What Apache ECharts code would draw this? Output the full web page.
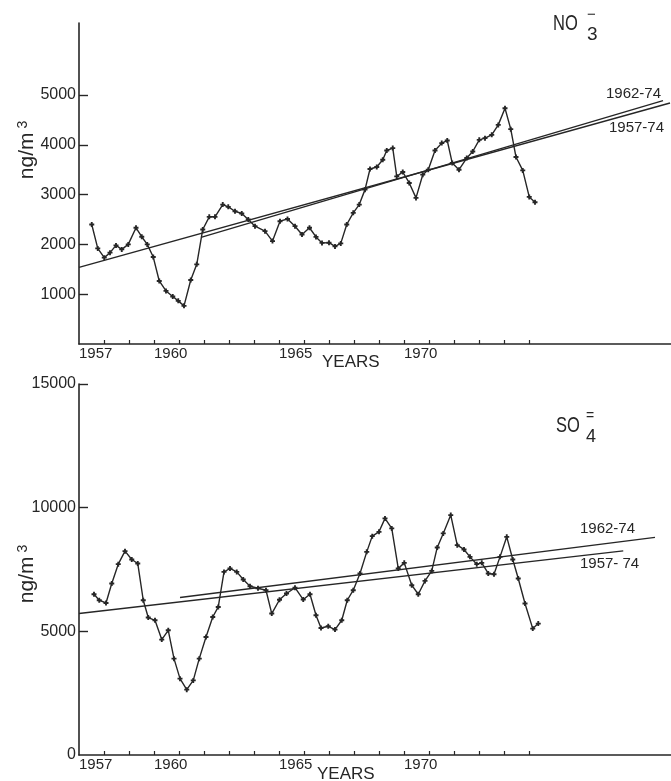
<!DOCTYPE html>
<html lang="en">
<head>
    <meta charset="utf-8" />
    <style>
        html, body { margin:0; padding:0; background:#fff; }
    </style>
</head>
<body>

<div id="view1" style="width:671px; height:781px;"></div>

<script src="https://cdn.jsdelivr.net/npm/echarts/dist/echarts.min.js"></script>

<script language="javascript">

    // NO3- (top panel), quarterly points
    var no3Years = [1957.51,1957.75,1958.01,1958.24,1958.48,1958.71,1958.97,1959.28,1959.51,1959.73,
        1959.97,1960.21,1960.48,1960.75,1960.97,1961.2,1961.47,1961.71,1961.95,1962.21,
        1962.44,1962.75,1962.97,1963.24,1963.51,1963.77,1964.04,1964.44,1964.74,1965.04,
        1965.34,1965.64,1965.92,1966.22,1966.48,1966.72,1967.0,1967.24,1967.47,1967.71,
        1967.97,1968.21,1968.44,1968.64,1968.91,1969.15,1969.31,1969.55,1969.71,1969.95,
        1970.21,1970.48,1970.75,1970.97,1971.24,1971.51,1971.73,1971.93,1972.2,1972.51,
        1972.75,1973.01,1973.24,1973.51,1973.77,1974.04,1974.27,1974.48,1974.75,1975.01,1975.24];
    var no3Values = [2400,1920,1734,1834,1980,1900,2000,2334,2154,2000,
        1746,1266,1066,954,866,766,1286,1600,2300,2554,
        2554,2800,2754,2666,2620,2500,2366,2266,2066,2466,
        2510,2366,2200,2334,2150,2030,2034,1960,2020,2400,
        2634,2800,3100,3514,3554,3700,3886,3934,3366,3454,
        3234,2934,3400,3500,3886,4034,4086,3634,3500,3734,
        3866,4100,4134,4200,4400,4734,4314,3754,3486,2954,2846];

    // SO4= (bottom panel)
    var so4Years = [1957.6,1957.81,1958.08,1958.31,1958.57,1958.84,1959.11,1959.35,1959.57,1959.77,
        1960.04,1960.31,1960.57,1960.8,1961.04,1961.31,1961.57,1961.81,1962.08,1962.35,
        1962.57,1962.8,1963.04,1963.31,1963.57,1963.84,1964.16,1964.48,1964.71,1965.02,
        1965.3,1965.64,1965.97,1966.24,1966.48,1966.68,1966.97,1967.24,1967.51,1967.73,
        1967.97,1968.24,1968.51,1968.73,1969.0,1969.24,1969.51,1969.77,1970.01,1970.31,
        1970.57,1970.84,1971.11,1971.33,1971.57,1971.87,1972.13,1972.4,1972.64,1972.91,
        1973.11,1973.37,1973.6,1973.84,1974.11,1974.35,1974.57,1974.84,1975.15,1975.37];
    var so4Values = [6500,6257,6148,6934,7715,8242,7906,7744,6257,5557,
        5447,4666,5042,3896,3086,2641,3017,3896,4771,5581,
        5986,7403,7541,7403,7096,6824,6743,6662,5719,6278,
        6529,6764,6286,6500,5650,5135,5204,5071,5447,6257,
        6662,7339,8213,8849,9023,9566,9161,7541,7768,6865,
        6500,7039,7444,8392,8959,9700,8485,8311,8011,7715,
        7768,7339,7310,8011,8821,7906,7136,6124,5111,5314];

    // trend lines, end points [year, value]
    var no3Trend5774 = [[1957.0, 1540], [1980.64, 4840]];
    var no3Trend6274 = [[1961.88, 2140], [1980.36, 4886]];
    var so4Trend5774 = [[1957.0, 5719], [1978.77, 8254]];
    var so4Trend6274 = [[1961.04, 6367], [1980.04, 8797]];

    // axis ticks / labels
    var yearTicks = [1958,1959,1960,1961,1962,1963,1964,1965,1966,1967,1968,1969,1970,1971,1972,1973,1974,1975];
    var yearLabels = [1957, 1960, 1965, 1970];
    var no3Ticks = [1000, 2000, 3000, 4000, 5000];
    var so4Ticks = [5000, 10000, 15000];
    var so4Labels = [0, 5000, 10000, 15000];

    var INK = "#262626";
    var FONT = "Liberation Sans";

    function pairs(xs, ys){
        return xs.map(function(x, i){ return [x, ys[i]]; });
    }

    function makeX(idx){
        return {
            type:"value", gridIndex:idx, min:1957, max:1980.68, interval:1,
            splitLine:{show:false},
            axisLine:{lineStyle:{color:INK, width:1.6}},
            axisTick:{inside:true, length:4, customValues:yearTicks, lineStyle:{color:INK, width:1.2}},
            axisLabel:{customValues:yearLabels, align:"left", margin:2, color:INK,
                fontSize:15, fontFamily:FONT, formatter:function(v){ return String(v); }}
        };
    }

    function makeY(idx, max, ticks, labels){
        return {
            type:"value", gridIndex:idx, min:0, max:max,
            splitLine:{show:false},
            axisLine:{lineStyle:{color:INK, width:1.6}},
            axisTick:{inside:true, length:9, customValues:ticks, lineStyle:{color:INK, width:1.4}},
            axisLabel:{customValues:labels, margin:3, color:INK, fontSize:16, fontFamily:FONT,
                formatter:function(v){ return String(v); }}
        };
    }

    // small bold cross, like the plotted marks
    var cross = "path://M2.5,0H5.5V2.5H8V5.5H5.5V8H2.5V5.5H0V2.5H2.5Z";

    function dataLine(xi, data){
        return {
            type:"line", xAxisIndex:xi, yAxisIndex:xi, data:data,
            symbol:cross, symbolSize:5, showSymbol:true,
            lineStyle:{color:INK, width:1.4}, itemStyle:{color:INK},
            z:3
        };
    }

    function trendLine(xi, data){
        return {
            type:"line", xAxisIndex:xi, yAxisIndex:xi, data:data,
            symbol:"none", lineStyle:{color:INK, width:1.4}, z:2
        };
    }

    function txt(x, y, s, size, extra){
        var el = {type:"text", x:x, y:y, z:10,
            style:{text:s, fill:INK, fontSize:size, fontFamily:FONT, verticalAlign:"middle", align:"left"}};
        for(var k in extra) el[k] = extra[k];
        return el;
    }

    function yName(cy){
        return {type:"text", x:27, y:cy, rotation:Math.PI/2, z:10,
            style:{text:"{a|ng/m}{b| 3}", fill:INK, align:"center", verticalAlign:"middle",
                rich:{a:{fontSize:21, fontFamily:FONT, fill:INK}, b:{fontSize:14, fontFamily:FONT, fill:INK, verticalAlign:"top"}}}};
    }

    window.onload = function(){
        var myChart = echarts.init(document.getElementById("view1"));

        var option = {
            animation:false,
            backgroundColor:"#fff",
            grid:[
                {left:79, top:23, width:592, height:321},
                {left:79, top:384, width:592, height:371}
            ],
            xAxis:[makeX(0), makeX(1)],
            yAxis:[makeY(0, 6446, no3Ticks, no3Ticks), makeY(1, 15000, so4Ticks, so4Labels)],
            series:[
                trendLine(0, no3Trend5774),
                trendLine(0, no3Trend6274),
                dataLine(0, pairs(no3Years, no3Values)),
                trendLine(1, so4Trend5774),
                trendLine(1, so4Trend6274),
                dataLine(1, pairs(so4Years, so4Values))
            ],
            graphic:[
                // NO3-
                txt(553, 24, "NO", 22, {scaleX:0.75}),
                txt(587, 35, "3", 19),
                txt(587, 15, "\u2212", 15),
                // SO4=
                txt(556, 426, "SO", 22, {scaleX:0.75}),
                txt(586, 437, "4", 18),
                txt(586, 416, "=", 14),
                // trend labels
                txt(606, 94, "1962-74", 15),
                txt(609, 128, "1957-74", 15),
                txt(580, 529, "1962-74", 15),
                txt(580, 564, "1957- 74", 15),
                // axis titles
                txt(322, 362, "YEARS", 17),
                txt(317, 774, "YEARS", 17),
                yName(150),
                yName(574)
            ]
        };

        myChart.setOption(option);
    };

</script>

</body>
</html>
